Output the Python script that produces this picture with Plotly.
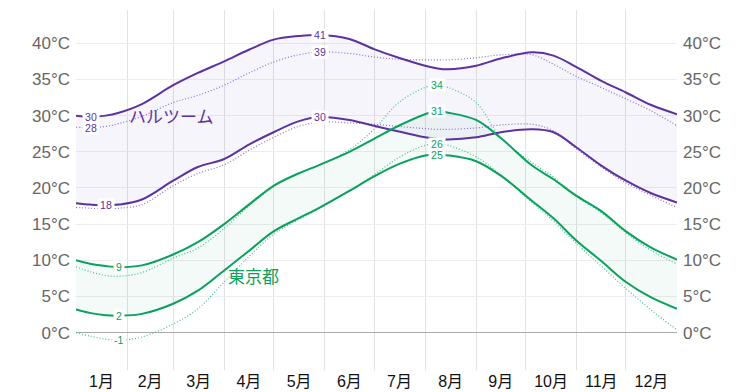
import plotly.graph_objects as go

# ---- data (day of year, °C) ----
DAYS = [0, 9, 18, 26, 40, 59, 74, 90, 105, 120, 135, 148, 166, 181, 196, 212, 219, 226,
        243, 258, 277, 290, 304, 319, 334, 349, 365]

khartoum_high = [30.0, 29.85, 30.0, 30.4, 31.6, 34.2, 35.9, 37.5, 39.1, 40.5, 41.0, 41.15, 40.6,
                 39.2, 38.0, 36.9, 36.55, 36.4, 36.9, 37.9, 38.75, 38.3, 36.7, 34.8, 33.2, 31.5, 30.2]
khartoum_high_alt = [28.4, 28.35, 28.5, 28.9, 29.9, 31.8, 32.8, 34.2, 35.9, 37.4, 38.4, 38.8, 38.6,
                     38.1, 37.8, 37.7, 37.7, 37.7, 38.0, 38.4, 38.4, 37.1, 35.4, 33.9, 32.3, 30.7, 28.6]
khartoum_low = [17.9, 17.7, 17.6, 17.7, 18.4, 21.0, 22.9, 24.0, 26.0, 27.7, 29.2, 29.8, 29.4,
                28.6, 27.8, 27.0, 26.8, 26.7, 27.0, 27.7, 28.1, 27.7, 25.6, 23.1, 21.0, 19.3, 18.0]
khartoum_low_alt = [17.3, 17.2, 17.1, 17.2, 17.7, 20.3, 22.0, 23.2, 25.2, 27.0, 28.5, 29.1, 29.0,
                    28.8, 28.5, 28.2, 28.1, 28.1, 28.3, 28.7, 28.8, 27.9, 25.4, 22.9, 20.7, 19.0, 17.3]
tokyo_high = [10.0, 9.5, 9.2, 9.05, 9.3, 10.8, 12.5, 15.0, 17.7, 20.3, 22.0, 23.2, 25.0,
              26.8, 28.6, 30.2, 30.6, 30.4, 29.4, 26.9, 23.1, 21.2, 18.9, 16.8, 14.0, 11.8, 10.1]
tokyo_high_alt = [9.1, 8.4, 7.9, 7.8, 8.3, 10.3, 11.7, 14.4, 17.5, 20.2, 22.0, 23.2, 25.3,
                  28.1, 31.8, 33.9, 34.2, 33.9, 31.8, 26.9, 23.5, 21.5, 18.8, 16.6, 13.8, 11.4, 9.5]
tokyo_low = [3.2, 2.7, 2.4, 2.35, 2.6, 4.0, 5.8, 8.6, 11.3, 14.0, 15.8, 17.3, 19.6,
             21.6, 23.3, 24.5, 24.6, 24.5, 23.7, 21.7, 18.2, 15.8, 12.7, 9.9, 7.0, 4.9, 3.3]
tokyo_low_alt = [0.0, -0.5, -0.9, -1.05, -0.6, 1.2, 3.3, 7.0, 10.5, 13.6, 15.6, 17.2, 19.6,
                 21.8, 24.2, 25.9, 26.1, 25.9, 24.3, 21.8, 18.0, 15.4, 12.3, 9.2, 6.1, 3.2, 0.4]

MONTH_STARTS = [0, 31, 59, 90, 120, 151, 181, 212, 243, 273, 304, 334, 365]
MONTH_LABELS = ["1月", "2月", "3月", "4月", "5月", "6月", "7月", "8月", "9月", "10月", "11月", "12月"]
Y_TICKS = [0, 5, 10, 15, 20, 25, 30, 35, 40]
Y_TICK_LABELS = [f"{v}°C" for v in Y_TICKS]

CITY_KH = "ハルツーム"
CITY_TK = "東京都"

# ---- styles ----
PURPLE = "#5b32a0"
PURPLE_LIGHT = "#8d6fcb"
PURPLE_FILL = "rgba(120,80,200,0.06)"
GREEN = "#0aa15c"
GREEN_LIGHT = "#3cc28d"
GREEN_FILL = "rgba(20,160,110,0.05)"
FONT = "Helvetica Neue, Liberation Sans, Arial, Noto Sans CJK JP, sans-serif"

fig = go.Figure()

# fills (drawn first, beneath all lines)
for low, high, fc in [(khartoum_low, khartoum_high, PURPLE_FILL), (tokyo_low, tokyo_high, GREEN_FILL)]:
    fig.add_trace(go.Scatter(x=DAYS, y=low, mode="lines", line=dict(width=0, shape="spline"),
                             hoverinfo="skip", showlegend=False))
    fig.add_trace(go.Scatter(x=DAYS, y=high, mode="lines", line=dict(width=0, shape="spline"),
                             fill="tonexty", fillcolor=fc, hoverinfo="skip", showlegend=False))

# dotted lines
for ys, col in [(khartoum_high_alt, PURPLE_LIGHT), (khartoum_low_alt, PURPLE_LIGHT),
                (tokyo_high_alt, GREEN_LIGHT), (tokyo_low_alt, GREEN_LIGHT)]:
    fig.add_trace(go.Scatter(x=DAYS, y=ys, mode="lines",
                             line=dict(color=col, width=1.2, dash="1px,2px", shape="spline"),
                             hoverinfo="skip", showlegend=False))

# solid lines
for ys, col in [(khartoum_high, PURPLE), (khartoum_low, PURPLE),
                (tokyo_high, GREEN), (tokyo_low, GREEN)]:
    fig.add_trace(go.Scatter(x=DAYS, y=ys, mode="lines",
                             line=dict(color=col, width=2, shape="spline"),
                             hoverinfo="skip", showlegend=False))

# invisible trace for the right axis
fig.add_trace(go.Scatter(x=DAYS, y=khartoum_high, yaxis="y2", mode="lines",
                         line=dict(width=0), opacity=0, hoverinfo="skip", showlegend=False))

# extremum labels
def ext_label(ys, col, kind):
    idx = ys.index(max(ys)) if kind == "max" else ys.index(min(ys))
    v = ys[idx]
    fig.add_annotation(x=DAYS[idx], y=v, text="\u2009" + str(int(round(v))) + "\u2009",
                       showarrow=False, font=dict(size=10.5, color=col, family=FONT),
                       bgcolor="white", borderpad=0, xanchor="center", yanchor="middle")

for ys, col, kinds in [
    (khartoum_high, PURPLE, ["min", "max"]),
    (khartoum_high_alt, PURPLE, ["min", "max"]),
    (khartoum_low, PURPLE, ["min", "max"]),
    (tokyo_high, GREEN, ["min", "max"]),
    (tokyo_high_alt, GREEN, ["max"]),
    (tokyo_low, GREEN, ["min", "max"]),
    (tokyo_low_alt, GREEN, ["min", "max"]),
]:
    for k in kinds:
        ext_label(ys, col, k)

# city labels
fig.add_annotation(x=58, y=29.8, text=CITY_KH, showarrow=False,
                   font=dict(size=17, color=PURPLE, family=FONT), xanchor="center", yanchor="middle")
fig.add_annotation(x=108, y=7.6, text=CITY_TK, showarrow=False,
                   font=dict(size=17, color=GREEN, family=FONT), xanchor="center", yanchor="middle")

month_centers = [(MONTH_STARTS[i] + MONTH_STARTS[i + 1]) / 2 for i in range(12)]
yrange = [-5.16, 44.6]

fig.update_layout(
    width=753, height=392,
    margin=dict(l=76, r=76, t=10, b=22, autoexpand=False),
    plot_bgcolor="white", paper_bgcolor="white",
    showlegend=False,
    xaxis=dict(range=[0, 365], tickmode="array", tickvals=month_centers, ticktext=MONTH_LABELS,
               showgrid=False, zeroline=False, showline=False, ticks="", automargin=False,
               tickfont=dict(size=16, color="#111111", family=FONT),
               minor=dict(tickmode="array", tickvals=MONTH_STARTS[1:-1], showgrid=True,
                          gridcolor="#e2e2e2", gridwidth=1, ticks="")),
    yaxis=dict(range=yrange, tickmode="array", tickvals=Y_TICKS, ticktext=Y_TICK_LABELS,
               showgrid=True, gridcolor="#ededed", gridwidth=1, automargin=False,
               zeroline=True, zerolinecolor="#a9a9a9", zerolinewidth=1,
               ticks="", ticklabelstandoff=5,
               tickfont=dict(size=17, color="#666666", family=FONT)),
    yaxis2=dict(range=yrange, overlaying="y", side="right", tickmode="array", tickvals=Y_TICKS,
                ticktext=Y_TICK_LABELS, showgrid=False, zeroline=False, ticks="", ticklabelstandoff=5,
                automargin=False, tickfont=dict(size=17, color="#666666", family=FONT)),
)

fig.write_html("out.html", config={"displayModeBar": False},
               post_script="document.body.style.margin='0';document.body.style.overflow='hidden';")
